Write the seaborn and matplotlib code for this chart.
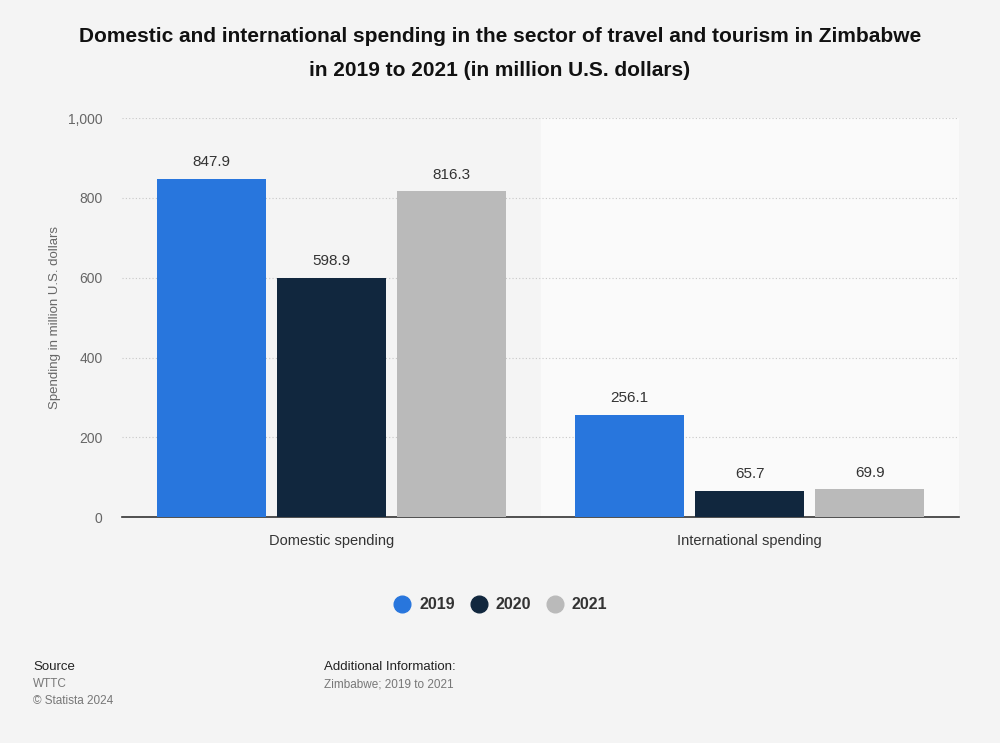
import pandas as pd
import matplotlib.pyplot as plt
import seaborn as sns
from matplotlib.lines import Line2D

categories = ['Domestic spending', 'International spending']
years = ['2019', '2020', '2021']
values_2019 = [847.9, 256.1]
values_2020 = [598.9, 65.7]
values_2021 = [816.3, 69.9]
colors = ['#2876dd', '#11273e', '#bababa']

df = pd.DataFrame({
    'category': categories * 3,
    'year': [y for y in years for _ in categories],
    'value': values_2019 + values_2020 + values_2021,
})

sns.set_theme(style='white')
plt.rcParams['font.family'] = ['Liberation Sans', 'DejaVu Sans']

fig = plt.figure(figsize=(10, 7.43), dpi=100, facecolor='#f4f4f4')
ax = fig.add_axes([0.122, 0.304, 0.837, 0.537])
ax.set_facecolor('#f4f4f4')

# lighter band behind second category
ax.axvspan(0.5, 1.5, color='#fafafa', zorder=0)

sns.barplot(data=df, x='category', y='value', hue='year', palette=colors,
            saturation=1, width=0.86, gap=0.09, linewidth=0,
            ax=ax, legend=False, zorder=3)

for cont in ax.containers:
    ax.bar_label(cont, fmt='%.1f', padding=7, fontsize=11, color='#333333')

ax.set_xlim(-0.5, 1.5)
ax.set_ylim(0, 1000)
ax.set_yticks([0, 200, 400, 600, 800, 1000])
ax.set_yticklabels(['0', '200', '400', '600', '800', '1,000'])
ax.yaxis.grid(True, linestyle=(0, (1, 2)), color='#c8c8c8', linewidth=0.8, zorder=1)
ax.set_axisbelow(True)
for s in ['top', 'right', 'left']:
    ax.spines[s].set_visible(False)
ax.spines['bottom'].set_color('#333333')
ax.spines['bottom'].set_linewidth(1.2)
ax.tick_params(axis='y', length=0, labelsize=10, labelcolor='#666666', pad=14)
ax.tick_params(axis='x', length=0, labelsize=10.5, labelcolor='#333333', pad=12)
ax.set_xlabel('')
ax.set_ylabel('Spending in million U.S. dollars', fontsize=9.5, color='#666666', labelpad=5)

fig.text(0.5, 0.964, 'Domestic and international spending in the sector of travel and tourism in Zimbabwe\nin 2019 to 2021 (in million U.S. dollars)',
         ha='center', va='top', fontsize=15, fontweight='bold', color='#111111', linespacing=2.02)

handles = [Line2D([0], [0], marker='o', linestyle='', markersize=12,
                  markerfacecolor=c, markeredgecolor=c) for c in colors]
fig.legend(handles, years, loc='center', bbox_to_anchor=(0.497, 0.186), ncol=3,
           frameon=False, prop={'weight': 'bold', 'size': 11.5}, labelcolor='#333333',
           handletextpad=0.05, columnspacing=0.5)

fig.text(0.033, 0.098, 'Source', fontsize=9.5, color='#222222')
fig.text(0.033, 0.075, 'WTTC', fontsize=8.5, color='#777777')
fig.text(0.033, 0.053, '\u00a9 Statista 2024', fontsize=8.5, color='#777777')
fig.text(0.324, 0.098, 'Additional Information:', fontsize=9.5, color='#222222')
fig.text(0.324, 0.075, 'Zimbabwe; 2019 to 2021', fontsize=8.5, color='#777777')

fig.savefig('out.png', dpi=100, facecolor=fig.get_facecolor())
